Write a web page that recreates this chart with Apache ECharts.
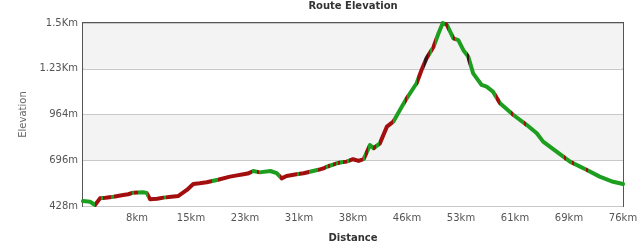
<!DOCTYPE html>
<html>
<head>
<meta charset="utf-8">
<script src="https://cdn.jsdelivr.net/npm/echarts@6/dist/echarts.min.js"></script>
<style>html,body{margin:0;padding:0;background:#fff}#c{width:640px;height:241px}</style>
</head>
<body>
<div id="c"></div>
<script>
// Distance (km) and elevation (m)
const distanceKm = [0, 1.0, 1.7, 2.4, 3.2, 4.3, 5.7, 6.4, 7.1, 8.5, 9.0, 9.5, 10.5, 11.4, 12.5, 13.5, 14.7, 15.6, 16.5, 17.5, 19.1, 20.8, 21.6, 22.5, 23.3, 24.1, 25.0, 26.5, 27.4, 28.1, 28.8, 30.2, 31.2, 32.1, 33.3, 34.0, 34.5, 35.9, 36.6, 37.3, 38.2, 39.0, 39.7, 40.6, 41.1, 42.0, 43.0, 43.9, 45.1, 45.8, 47.2, 47.9, 48.6, 49.6, 50.3, 50.9, 51.5, 52.4, 53.1, 53.8, 54.5, 55.2, 56.4, 57.1, 58.0, 59.0, 60.9, 62.8, 64.2, 65.1, 67.0, 68.9, 71.3, 73.1, 75.0, 76.4];
const elevationM = [457, 453, 434, 473, 476, 482, 492, 497, 506, 508, 505, 467, 470, 477, 482, 487, 522, 557, 561, 567, 582, 600, 606, 612, 618, 633, 625, 633, 620, 590, 604, 614, 620, 629, 640, 648, 658, 678, 684, 688, 702, 692, 702, 785, 766, 795, 893, 922, 1010, 1059, 1147, 1225, 1293, 1361, 1440, 1500, 1488, 1410, 1400, 1342, 1303, 1205, 1137, 1127, 1098, 1030, 961, 902, 854, 805, 746, 688, 639, 600, 570, 557];
// Tick labels
const yTickValues = [428, 696, 964, 1232, 1500];
const yTickLabels = ['428m', '696m', '964m', '1.23Km', '1.5Km'];
const xTickLabels = ['0km', '8km', '15km', '23km', '31km', '38km', '46km', '53km', '61km', '69km', '76km'];
const xMaxKm = 76.4;
// Line colour ranges (km)
const redRanges = [[1.7,2.6],[2.8,4.0],[4.4,7.0],[7.2,7.8],[9.2,11.4],[11.8,18.2],[19.1,23.9],[24.6,24.9],[27.9,30.3],[30.6,32.0],[33.2,34.4],[34.7,35.0],[35.4,35.8],[36.1,36.4],[36.8,37.4],[37.7,39.6],[39.9,40.3],[41.0,41.5],[41.9,43.9],[45.5,45.9],[47.3,48.3],[48.8,49.1],[49.4,49.8],[51.2,51.6],[52.3,52.6],[58.5,59.0],[60.6,60.8],[62.4,62.7],[68.1,68.4],[69.2,69.5],[71.2,71.5]];
const darkRanges = [[48.3,48.8],[54.3,54.6]];

const base = yTickValues[0];
const yStep = yTickValues[1] - yTickValues[0];
const xStep = xMaxKm / (xTickLabels.length - 1);

const pieces = [];
redRanges.forEach(r => pieces.push({gte: r[0], lt: r[1], color: '#a30f0f'}));
darkRanges.forEach(r => pieces.push({gte: r[0], lt: r[1], color: '#3a1212'}));

const chart = echarts.init(document.getElementById('c'));
chart.setOption({
  animation: false,
  backgroundColor: '#fff',
  title: {
    text: 'Route Elevation', left: 353, top: 1, padding: 0, textAlign: 'center',
    textStyle: {fontFamily: 'DejaVu Sans', fontSize: 10, fontWeight: 'bold', color: '#333'}
  },
  grid: {left: 83, right: 17, top: 23, bottom: 35, outerBoundsMode: 'none', containLabel: false,
    show: true, borderColor: '#555', borderWidth: 2, backgroundColor: 'transparent'},
  xAxis: {
    type: 'value', min: 0, max: xMaxKm, interval: xStep,
    name: 'Distance', nameLocation: 'middle', nameGap: 27,
    nameTextStyle: {fontFamily: 'DejaVu Sans', fontSize: 10, fontWeight: 'bold', color: '#333'},
    axisLine: {show: false}, axisTick: {show: false}, splitLine: {show: false},
    axisLabel: {
      showMinLabel: false, margin: 7, fontFamily: 'DejaVu Sans', fontSize: 10, color: '#555',
      formatter: (v) => xTickLabels[Math.round(v / xStep)]
    }
  },
  yAxis: {
    type: 'value', min: 0, max: yTickValues[yTickValues.length - 1] - base, interval: yStep,
    name: 'Elevation', nameLocation: 'middle', nameGap: 55,
    nameTextStyle: {fontFamily: 'DejaVu Sans', fontSize: 10, color: '#666'},
    axisLine: {show: false}, axisTick: {show: false},
    splitLine: {lineStyle: {color: '#c8c8c8', width: 1}},
    splitArea: {show: true, areaStyle: {color: ['#ffffff', '#f3f3f3']}},
    axisLabel: {
      margin: 5, fontFamily: 'DejaVu Sans', fontSize: 10, color: '#555',
      formatter: (v) => yTickLabels[Math.round(v / yStep)]
    }
  },
  visualMap: {
    show: false, type: 'piecewise', dimension: 0, seriesIndex: 0,
    pieces: pieces, outOfRange: {color: '#1e9e1e'}
  },
  series: [{
    type: 'line', showSymbol: false, smooth: false,
    lineStyle: {width: 4, join: 'round', cap: 'round'},
    data: distanceKm.map((d, i) => [d, elevationM[i] - base])
  }]
});
</script>
</body>
</html>
